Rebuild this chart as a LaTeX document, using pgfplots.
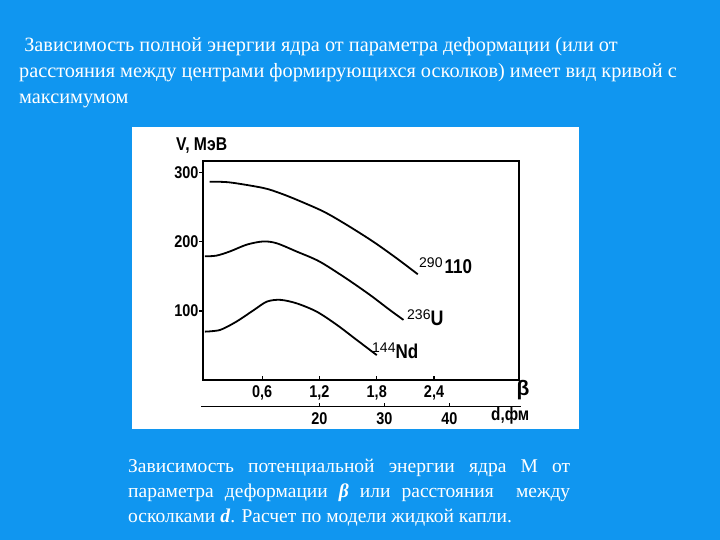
\documentclass[border=0pt]{standalone}
\usepackage{pgfplots}
\pgfplotsset{compat=1.18}
\usepackage{fontspec}
\setmainfont{Liberation Serif}
\newfontfamily\chartfont{Liberation Sans}
\newfontfamily\chartcond[FakeStretch=0.85]{Liberation Sans}
\definecolor{slideblue}{RGB}{16,150,240}
\begin{document}
\begin{tikzpicture}[x=1pt,y=1pt]
\fill[slideblue] (0,0) rectangle (720,540);
\useasboundingbox (0,0) rectangle (720,540);
% title
\node[anchor=north west, text=white, align=left, inner sep=0pt,
      font=\fontsize{20.3}{26}\selectfont] at (19,503)
 {\ Зависимость полной энергии ядра от параметра деформации (или от\\
  расстояния между центрами формирующихся осколков) имеет вид кривой с\\
  максимумом};
% white panel
\fill[white] (132,111) rectangle (579,413);
% caption
\node[anchor=north west, inner sep=0pt, text=white] at (128,81)
 {\parbox{442pt}{\fontsize{19.5}{25}\selectfont
  Зависимость потенциальной энергии ядра М от\linebreak
  параметра деформации \textbf{\textit{β}} или расстояния \ между\linebreak
  осколками \textbf{\textit{d}}. Расчет по модели жидкой капли.}};
% main axis
\begin{axis}[
  at={(203pt,160pt)}, anchor=south west,
  scale only axis, width=316pt, height=219pt,
  xmin=-0.02, xmax=3.29, ymin=0, ymax=317,
  axis line style={line width=1.6pt},
  xtick={0.6,1.2,1.8,2.4},
  xticklabels={0{,}6,1{,}2,1{,}8,2{,}4},
  ytick={100,200,300},
  yticklabels={100,200,300},
  xtick pos=bottom, ytick pos=left,
  tick align=inside,
  major tick length=4pt,
  tick style={line width=1.3pt, black},
  y tick style={xshift=-4pt},
  yticklabel style={xshift=-1pt},
  xticklabel style={yshift=-2pt},
  ticklabel style={font=\chartcond\bfseries\fontsize{17}{17}\selectfont},
  clip=false,
]
\addplot[black, line width=1.8pt, smooth, tension=0.5] coordinates {
 (0.05,287)(0.26,286)(0.61,278)(0.785,270.5)(0.96,261)(1.24,244)(1.48,225)(1.76,200.5)(2.01,176)(2.23,153)};
\addplot[black, line width=1.8pt, smooth, tension=0.5] coordinates {
 (0,179)(0.12,180)(0.26,186)(0.44,196)(0.61,200.5)(0.75,198)(0.96,186)(1.2,171.5)(1.48,147)(1.73,123)(1.94,101)(2.08,87)};
\addplot[black, line width=1.8pt, smooth, tension=0.5] coordinates {
 (0,70)(0.16,72.5)(0.33,84.5)(0.51,101)(0.65,113.5)(0.79,116)(0.96,111)(1.17,99)(1.38,80)(1.59,58)(1.8,36)};
\end{axis}
% second (d) axis
\begin{axis}[
  at={(201pt,133.3pt)}, anchor=south west,
  scale only axis, width=320pt, height=10pt,
  xmin=1.8, xmax=51.0, ymin=0, ymax=1,
  hide y axis, axis x line*=bottom,
  axis line style={line width=1.6pt, -},
  xtick={20,30,40}, xticklabels={20,30,40},
  tick align=inside, major tick length=4pt,
  tick style={line width=1.3pt, black},
  xticklabel style={yshift=-2pt},
  ticklabel style={font=\chartcond\bfseries\fontsize{17}{17}\selectfont},
]
\addplot[draw=none] coordinates {(20,0)};
\end{axis}
% chart labels
\node[font=\chartcond\bfseries\fontsize{18.5}{18.5}\selectfont, anchor=west, inner sep=0pt] at (176,394) {V, МэВ};
\node[font=\chartfont\bfseries\fontsize{21}{21}\selectfont, inner sep=0pt] at (523,150) {β};
\node[font=\chartcond\bfseries\fontsize{18}{18}\selectfont, anchor=west, inner sep=0pt] at (491,124) {d,фм};
\node[font=\chartcond\bfseries\fontsize{20}{20}\selectfont, anchor=west, inner sep=0pt] at (419,274) {\raisebox{6pt}{\chartfont\mdseries\fontsize{14}{14}\selectfont 290}\hspace{2pt}110};
\node[font=\chartcond\bfseries\fontsize{21}{21}\selectfont, anchor=west, inner sep=0pt] at (407,222) {\raisebox{6pt}{\chartfont\mdseries\fontsize{14}{14}\selectfont 236}U};
\node[font=\chartcond\bfseries\fontsize{20}{20}\selectfont, anchor=west, inner sep=0pt] at (372,189) {\raisebox{6pt}{\chartfont\mdseries\fontsize{14}{14}\selectfont 144}Nd};
\end{tikzpicture}
\end{document}
